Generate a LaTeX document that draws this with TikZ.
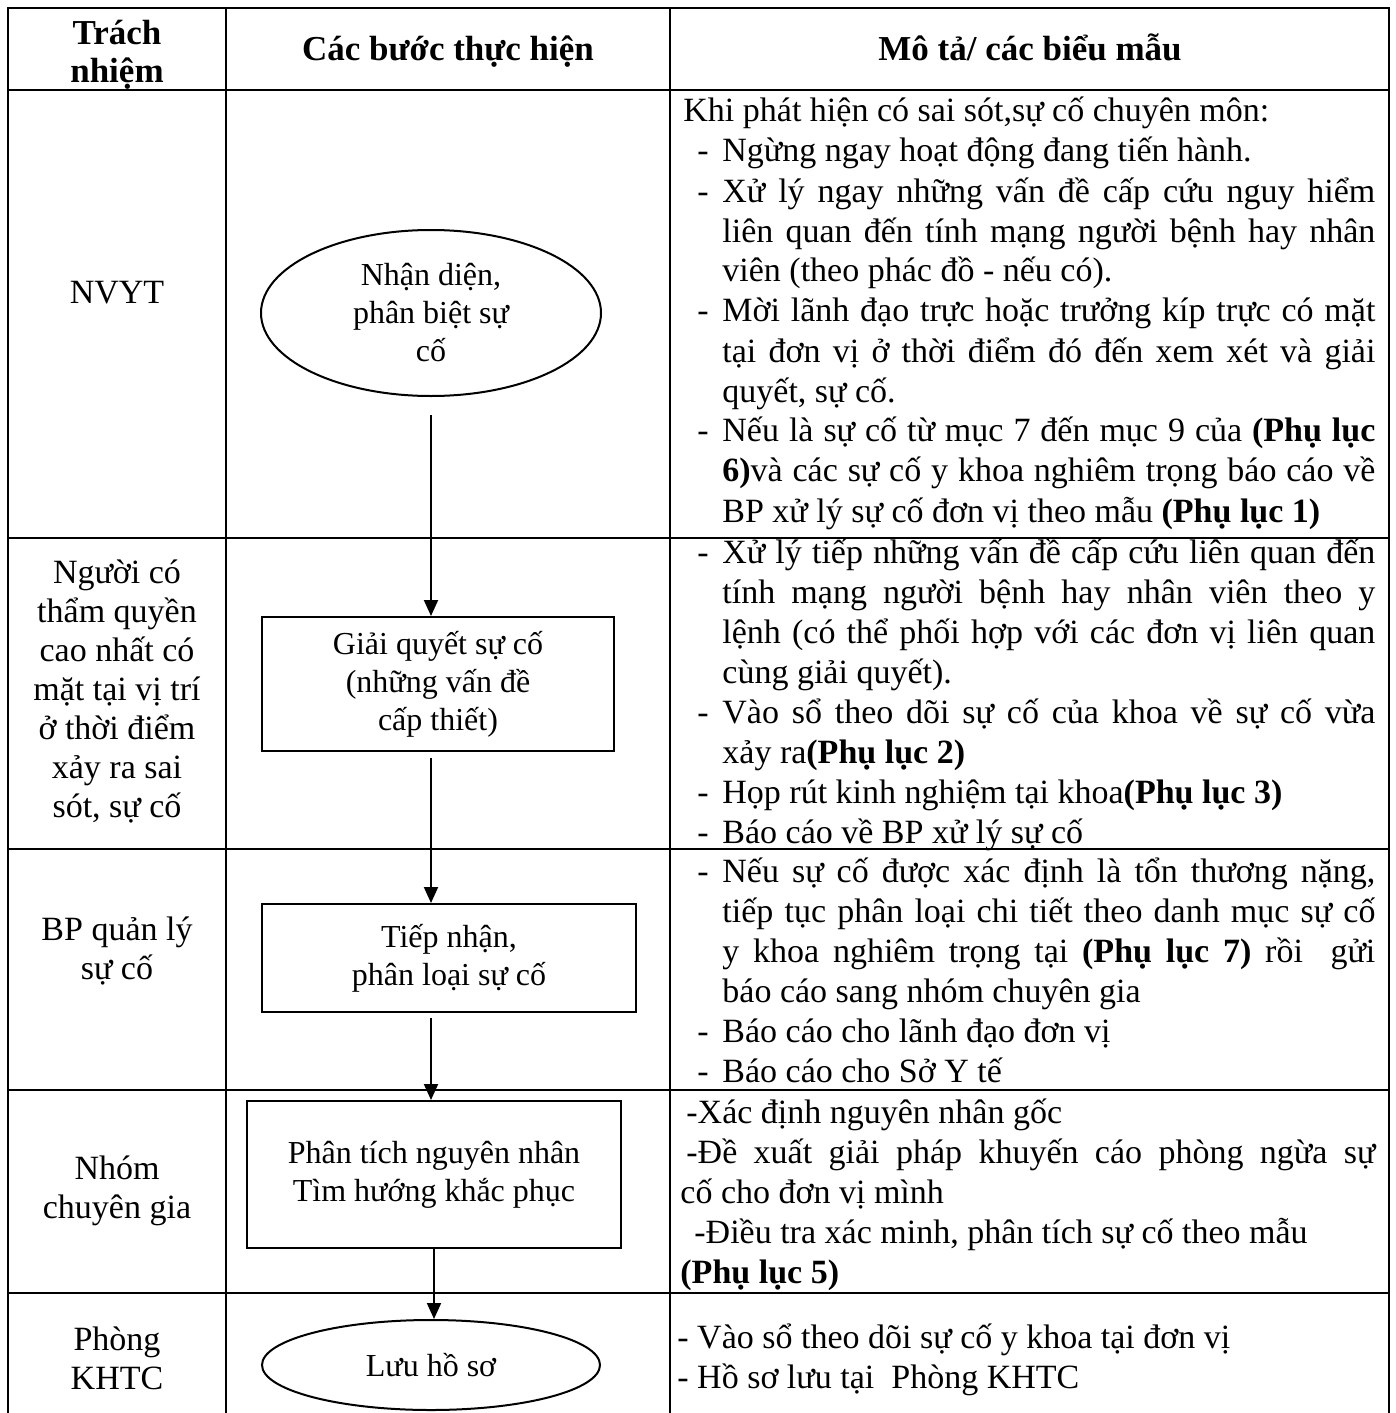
\documentclass[tikz,border=0pt]{standalone}
\usepackage{fontspec}
\setmainfont{Liberation Serif}
\usetikzlibrary{shapes.geometric,arrows.meta}

\hbadness=10000
\tikzset{
  hdr/.style={font=\fontsize{17.5}{19}\selectfont\bfseries, align=center, inner sep=0pt},
  resp/.style={font=\fontsize{17}{19.5}\selectfont, align=center, inner sep=0pt},
  desc/.style={font=\fontsize{17}{20}\selectfont, text width=346pt, align=justify, inner sep=0pt, anchor=base west},
  stepbox/.style={draw, line width=1pt, inner sep=0pt, align=center, font=\fontsize{16}{19}\selectfont},
  stepoval/.style={stepbox, ellipse},
  flow/.style={line width=1pt, -{Triangle[length=8pt,width=7pt]}},
  grid/.style={line width=1pt}
}
\newcommand{\itm}{\hangindent=19.5pt\hangafter=1\hspace*{7pt}\makebox[12.5pt][l]{-}}

\begin{document}
\begin{tikzpicture}[x=0.5pt,y=-0.5pt]
\useasboundingbox (0,0) rectangle (1396,1413);

% Table
\draw[grid] (8,1413) -- (8,8) -- (1389,8) -- (1389,1413);
\draw[grid] (226,8) -- (226,1413);
\draw[grid] (670,8) -- (670,1413);
\foreach \y in {90,538,849,1090,1293}
  \draw[grid] (8,\y) -- (1389,\y);

% Header
\node[hdr] (h1) at (117,55) {Trách\\nhiệm};
\node[hdr, anchor=base] (h2) at (448,61) {Các bước thực hiện};
\node[hdr, anchor=base] (h3) at (1030,61) {Mô tả/ các biểu mẫu};

% Responsible
\node[resp] (r1) at (117,293) {NVYT};
\node[resp] (r2) at (117,691) {Người có\\thẩm quyền\\cao nhất có\\mặt tại vị trí\\ở thời điểm\\xảy ra sai\\sót, sự cố};
\node[resp] (r3) at (117,951) {BP quản lý\\sự cố};
\node[resp] (r4) at (117,1191) {Nhóm\\chuyên gia};
\node[resp] (r5) at (117,1358) {Phòng\\KHTC};

% Steps
\node[stepoval, minimum width=170pt, minimum height=83pt] (s1) at (431,313) {Nhận diện,\\phân biệt sự\\cố};
\node[stepbox, minimum width=176pt, minimum height=67pt] (s2) at (438,684) {Giải quyết sự cố\\(những vấn đề\\cấp thiết)};
\node[stepbox, minimum width=187pt, minimum height=54pt] (s3) at (449,958) {Tiếp nhận,\\phân loại sự cố};
\node[stepbox, minimum width=187pt, minimum height=73.5pt] (s4) at (434,1174.5) {Phân tích nguyên nhân\\Tìm hướng khắc phục};
\node[stepoval, minimum width=169pt, minimum height=45pt] (s5) at (431,1365) {Lưu hồ sơ};

\draw[flow, shorten <=9pt] (s1.south) -- (s1.south |- s2.north);
\draw[flow, shorten <=3pt] (s2.south -| s1.south) -- (s1.south |- s3.north);
\draw[flow, shorten <=2.5pt] (s3.south -| s5.north) -- (s5.north |- s4.north);
\draw[flow] (s4.south) -- (s4.south |- s5.north);

% Descriptions
\node[desc] (d1) at (683,122) {Khi phát hiện có sai sót,sự cố chuyên môn:\par
\itm Ngừng ngay hoạt động đang tiến hành.\par
\itm Xử lý ngay những vấn đề cấp cứu nguy hiểm\linebreak liên quan đến tính mạng người bệnh hay nhân\linebreak viên (theo phác đồ - nếu có).\par
\itm Mời lãnh đạo trực hoặc trưởng kíp trực có mặt\linebreak tại đơn vị ở thời điểm đó đến xem xét và giải\linebreak quyết, sự cố.\par
\itm Nếu là sự cố từ mục 7 đến mục 9 của \textbf{(Phụ lục}\linebreak \textbf{6)}và các sự cố y khoa nghiêm trọng báo cáo về\linebreak BP xử lý sự cố đơn vị theo mẫu \textbf{(Phụ lục 1)}\par};

\node[desc] (d2) at (683,563) {\itm Xử lý tiếp những vấn đề cấp cứu liên quan đến\linebreak tính mạng người bệnh hay nhân viên theo y\linebreak lệnh (có thể phối hợp với các đơn vị liên quan\linebreak cùng giải quyết).\par
\itm Vào sổ theo dõi sự cố của khoa về sự cố vừa\linebreak xảy ra\textbf{(Phụ lục 2)}\par
\itm Họp rút kinh nghiệm tại khoa\textbf{(Phụ lục 3)}\par
\itm Báo cáo về BP xử lý sự cố\par};

\node[desc] (d3) at (683,882) {\itm Nếu sự cố được xác định là tổn thương nặng,\linebreak tiếp tục phân loại chi tiết theo danh mục sự cố\linebreak y khoa nghiêm trọng tại \textbf{(Phụ lục 7)} rồi\ \ gửi\linebreak báo cáo sang nhóm chuyên gia\par
\itm Báo cáo cho lãnh đạo đơn vị\par
\itm Báo cáo cho Sở Y tế\par};

\node[desc, text width=347.5pt] (d4) at (680,1123) {\hspace*{3pt}-Xác định nguyên nhân gốc\par
\hspace*{3pt}-Đề xuất giải pháp khuyến cáo phòng ngừa sự\linebreak cố cho đơn vị mình\par
\hspace*{7pt}-Điều tra xác minh, phân tích sự cố theo mẫu\newline\textbf{(Phụ lục 5)}\par};

\node[font=\fontsize{17}{20}\selectfont, align=left, inner sep=0pt, anchor=north west] (d5) at (677,1323) {- Vào sổ theo dõi sự cố y khoa tại đơn vị\\- Hồ sơ lưu tại\ \ Phòng KHTC};

\end{tikzpicture}
\end{document}
